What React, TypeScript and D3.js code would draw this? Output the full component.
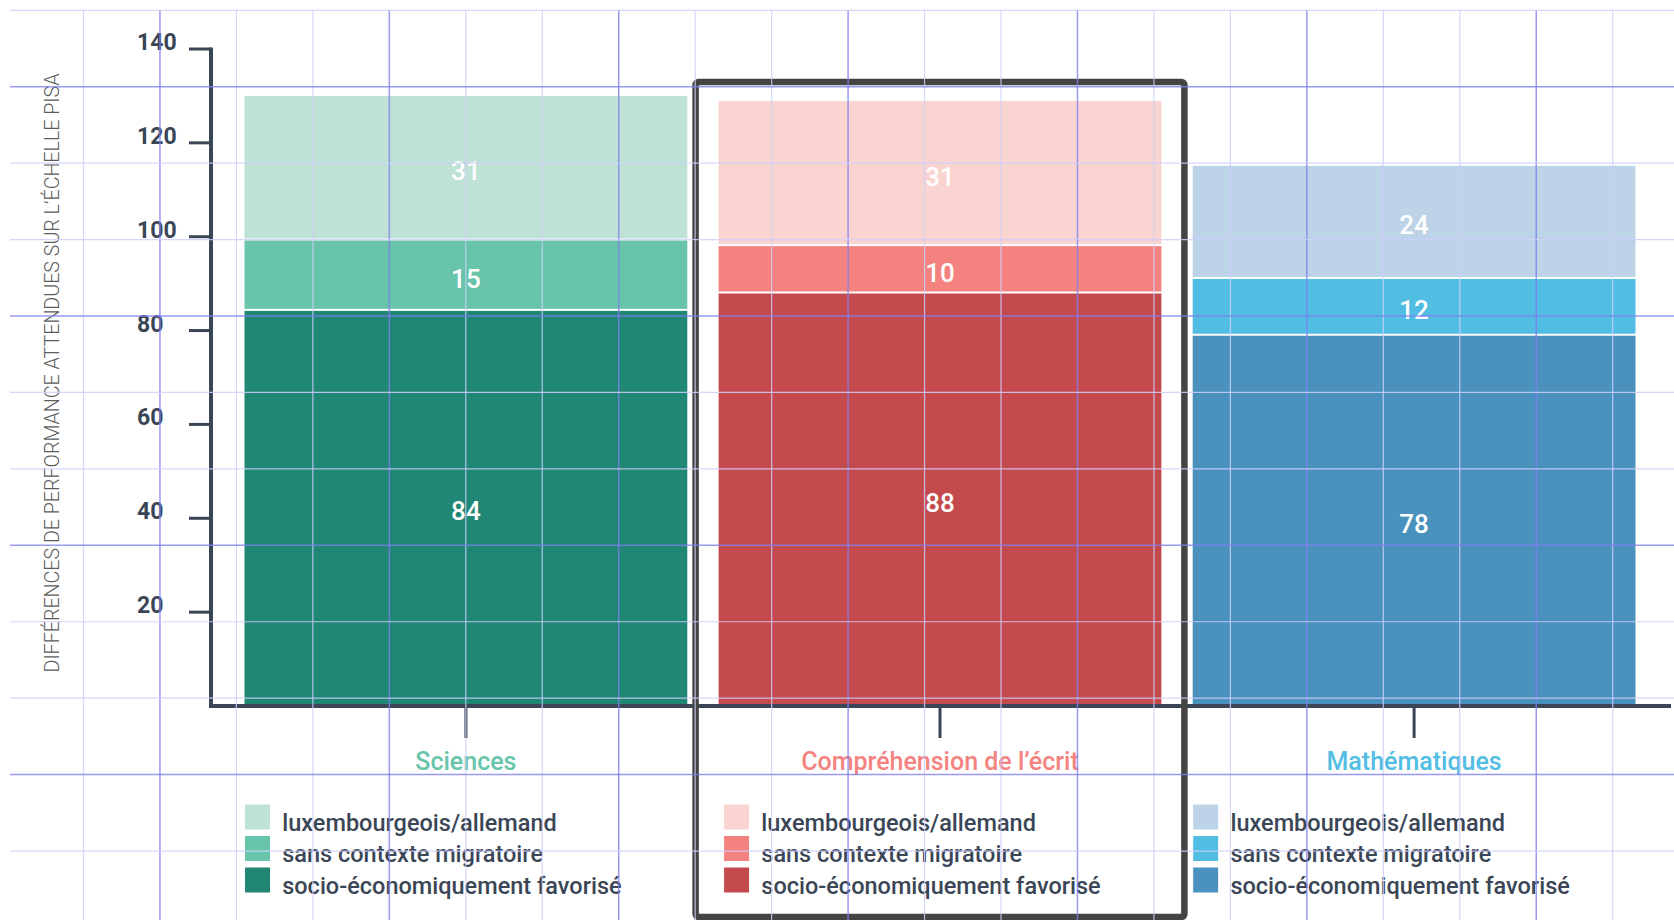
import React from 'react';
import * as d3 from 'd3';

// ---- data ----
const categories = ['Sciences', 'Compréhension de l’écrit', 'Mathématiques'];
const highlighted = 'Compréhension de l’écrit';
const seriesNames = ['socio-économiquement favorisé', 'sans contexte migratoire', 'luxembourgeois/allemand'];
const favorise = [84.2, 87.9, 78.9];
const sansContexte = [15.0, 10.1, 12.1];
const luxAllemand = [30.8, 30.9, 24.1];
const favoriseLabels = ['84', '88', '78'];
const sansContexteLabels = ['15', '10', '12'];
const luxAllemandLabels = ['31', '31', '24'];
const yTicks = [20, 40, 60, 80, 100, 120, 140];
const yTitle = 'DIFFÉRENCES DE PERFORMANCE ATTENDUES SUR L’ÉCHELLE PISA';

// ---- styles ----
const palettes = [
  ['#208774', '#68c5ab', '#bfe2d6'],
  ['#c54a4d', '#f4837f', '#f9d4d0'],
  ['#4a92bd', '#51bde3', '#bdd3e7'],
];
const INK = '#3a4655';
const FONT = 'Roboto, "Noto Sans", sans-serif';
const W = 1674;
const H = 920;

export default function App() {
  const y = d3.scaleLinear().domain([0, 140]).range([706, 49]);
  const x = d3
    .scaleBand<string>()
    .domain(categories)
    .range([244.5, 1635.5])
    .paddingInner(0.066)
    .paddingOuter(0);
  const bw = x.bandwidth();

  const series = [favorise, sansContexte, luxAllemand];
  const labels = [favoriseLabels, sansContexteLabels, luxAllemandLabels];

  const rows = categories.map((c, ci) => {
    const obj: any = { cat: c };
    series.forEach((s, si) => (obj['s' + si] = s[ci]));
    return obj;
  });
  const stack = d3.stack<any>().keys(['s0', 's1', 's2'])(rows);

  // decorative design grid overlay
  const vGrid = d3.range(0, 21).map((k) => ({ p: 83.5 + k * 76.46, strong: k % 3 === 1 }));
  const hGrid = d3.range(0, 12).map((k) => ({ p: 10.3 + k * 76.43, strong: k % 3 === 1 }));

  const hx = x(highlighted)!;

  return (
    <div style={{ position: 'fixed', left: 0, top: 0, width: W, height: H, background: '#fff' }}>
      <svg width={W} height={H} viewBox={`0 0 ${W} ${H}`} style={{ display: 'block', fontFamily: FONT }}>
        <rect x={0} y={0} width={W} height={H} fill="#fff" />

        {/* bars */}
        {stack.map((layer, si) => (
          <g key={si}>
            {layer.map((d, ci) => {
              const top = y(d[1]);
              const bottom = y(d[0]);
              return (
                <rect
                  key={ci}
                  x={x(categories[ci])!}
                  y={top}
                  width={bw}
                  height={Math.max(0, bottom - top - (si > 0 ? 2 : 0))}
                  fill={palettes[ci][si]}
                />
              );
            })}
          </g>
        ))}

        {/* value labels */}
        {stack.map((layer, si) => (
          <g key={'l' + si}>
            {layer.map((d, ci) => {
              const cy = (y(d[1]) + y(d[0])) / 2;
              return (
                <text
                  key={ci}
                  x={x(categories[ci])! + bw / 2}
                  y={cy + 12}
                  textAnchor="middle"
                  fill="#fff"
                  fontSize={26}
                  fontWeight={500}
                >
                  {labels[si][ci]}
                </text>
              );
            })}
          </g>
        ))}

        {/* y axis */}
        <line x1={211} x2={211} y1={y(140) - 1.5} y2={708} stroke={INK} strokeWidth={4} />
        {yTicks.map((t) => (
          <g key={t}>
            <line x1={189} x2={211} y1={y(t)} y2={y(t)} stroke={INK} strokeWidth={3} />
            <text x={137} y={y(t) + 1} fill={INK} fontSize={23} fontWeight={700}>
              {t}
            </text>
          </g>
        ))}
        <text
          transform={`translate(59, 373) rotate(-90)`}
          textAnchor="middle"
          fill="#5c5c5c"
          fontSize={20}
          fontWeight={300}
          textLength={599}
          lengthAdjust="spacingAndGlyphs"
        >
          {yTitle}
        </text>

        {/* x axis */}
        <line x1={209} x2={1671} y1={706} y2={706} stroke={INK} strokeWidth={4} />
        {categories.map((c, ci) => {
          const cx = x(c)! + bw / 2;
          return (
            <g key={c}>
              <line x1={cx} x2={cx} y1={707} y2={738} stroke={INK} strokeWidth={3} />
              <text x={cx} y={770} textAnchor="middle" fill={palettes[ci][1]} fontSize={25} fontWeight={500}>
                {c}
              </text>
            </g>
          );
        })}

        {/* legends */}
        {categories.map((c, ci) => {
          const lx = x(c)! + (c === highlighted ? 5 : 0);
          const order = [2, 1, 0];
          return (
            <g key={'lg' + c}>
              {order.map((si, ri) => (
                <g key={si}>
                  <rect
                    x={lx}
                    y={804 + ri * 31.5}
                    width={26}
                    height={26}
                    fill={palettes[ci][si]}
                    stroke="#fff"
                    strokeWidth={1}
                  />
                  <text x={lx + 37.7} y={830.5 + ri * 31.5} fill={INK} fontSize={23.5} fontWeight={500}>
                    {seriesNames[si]}
                  </text>
                </g>
              ))}
            </g>
          );
        })}

        {/* highlight box */}
        <rect
          x={hx - 23}
          y={82}
          width={bw + 46}
          height={835}
          rx={3}
          fill="none"
          stroke="#444"
          strokeWidth={6.5}
        />

        {/* design grid overlay */}
        <g style={{ pointerEvents: 'none' }}>
          {vGrid.map((g, i) => (
            <line
              key={'v' + i}
              x1={g.p}
              x2={g.p}
              y1={10}
              y2={H}
              stroke={g.strong ? '#7f7ff0' : '#cfcffd'}
              strokeOpacity={g.strong ? 0.8 : 0.85}
              strokeWidth={g.strong ? 1.5 : 1.2}
            />
          ))}
          {hGrid.map((g, i) => (
            <line
              key={'h' + i}
              x1={10}
              x2={W}
              y1={g.p}
              y2={g.p}
              stroke={g.strong ? '#7f7ff0' : '#cfcffd'}
              strokeOpacity={g.strong ? 0.8 : 0.85}
              strokeWidth={g.strong ? 1.5 : 1.2}
            />
          ))}
        </g>
      </svg>
    </div>
  );
}
